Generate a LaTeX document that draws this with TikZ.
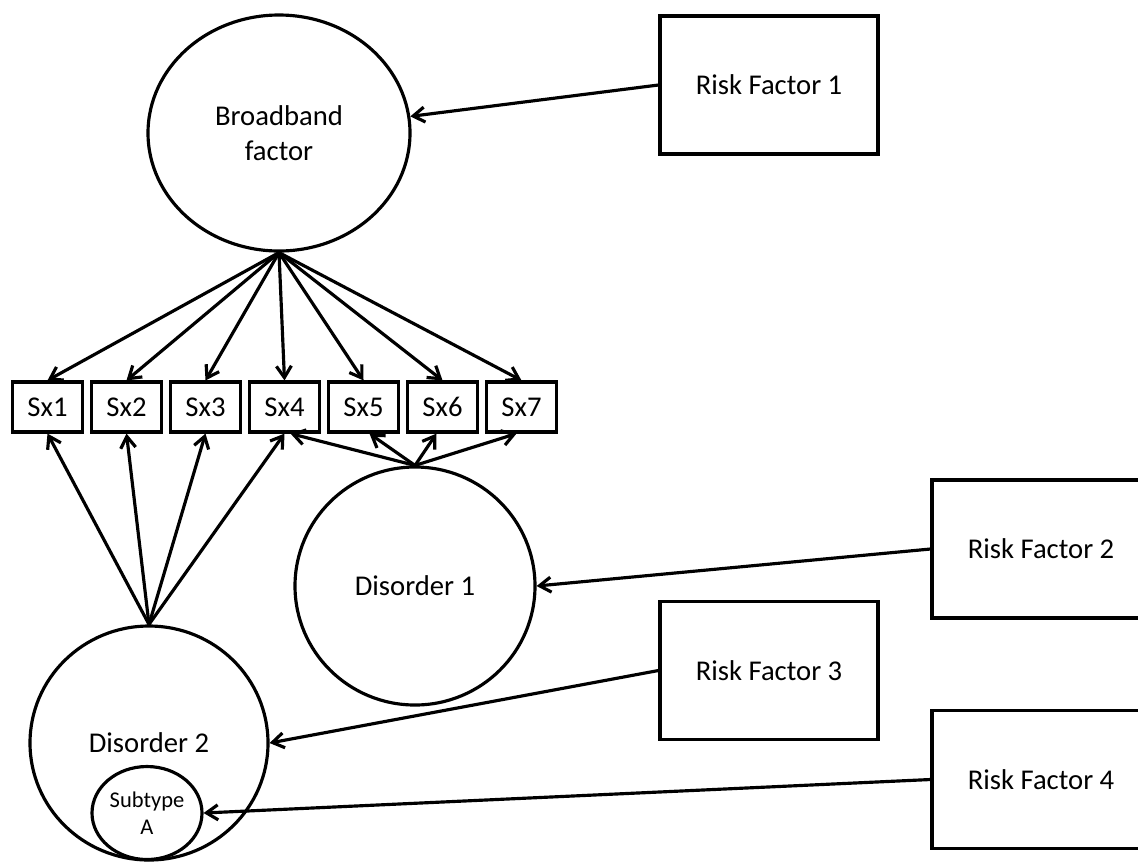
\documentclass[tikz,border=0pt]{standalone}
\usepackage{fontspec}
\setmainfont{Carlito}
\usetikzlibrary{shapes.geometric, arrows.meta}

\begin{document}
\begin{tikzpicture}[font=\fontsize{16.3}{20}\selectfont, line width=1.8pt,
    latent/.style={draw, ellipse, inner sep=0pt, align=center},
    sxbox/.style={draw, rectangle, minimum width=1.4cm, minimum height=1cm, inner sep=0pt},
    riskbox/.style={draw, rectangle, minimum width=4.36cm, minimum height=2.76cm},
    arr/.style={-{Straight Barb[length=2.3mm, width=3mm]}}]
    \useasboundingbox (0,0) rectangle (22.76,-17.22);
    \clip (0,0) rectangle (22.76,-17.22);
    % latent factors
    \node[latent, minimum width=5.24cm, minimum height=4.72cm] (bb) at (5.58,-2.66) {Broadband\\factor};
    \node[latent, minimum width=4.8cm, minimum height=4.76cm] (d1) at (8.30,-11.72) {Disorder 1};
    \node[latent, minimum width=4.76cm, minimum height=4.68cm] (d2) at (2.98,-14.86) {Disorder 2};
    \node[latent, minimum width=2.2cm, minimum height=1.86cm, font=\fontsize{12.8}{15.4}\selectfont] (sa) at (2.94,-16.26) {Subtype\\A};
    % symptoms
    \node[sxbox] (sx1) at (0.95,-8.14) {Sx1};
    \node[sxbox] (sx2) at (2.53,-8.14) {Sx2};
    \node[sxbox] (sx3) at (4.11,-8.14) {Sx3};
    \node[sxbox] (sx4) at (5.69,-8.14) {Sx4};
    \node[sxbox] (sx5) at (7.27,-8.14) {Sx5};
    \node[sxbox] (sx6) at (8.85,-8.14) {Sx6};
    \node[sxbox] (sx7) at (10.43,-8.14) {Sx7};
    % risk factors
    \node[riskbox] (rf1) at (15.38,-1.70) {Risk Factor 1};
    \node[riskbox] (rf2) at (20.82,-10.98) {Risk Factor 2};
    \node[riskbox] (rf3) at (15.38,-13.41) {Risk Factor 3};
    \node[riskbox] (rf4) at (20.82,-15.59) {Risk Factor 4};
    % loadings
    \draw[arr] (bb.south) -- (sx1.north);
    \draw[arr] (bb.south) -- (sx2.north);
    \draw[arr] (bb.south) -- (sx3.north);
    \draw[arr] (bb.south) -- (sx4.north);
    \draw[arr] (bb.south) -- (sx5.north);
    \draw[arr] (bb.south) -- (sx6.north);
    \draw[arr] (bb.south) -- (sx7.north);
    \draw[arr] (d1.north) -- ([xshift=0.12cm]sx4.south);
    \draw[arr] (d1.north) -- ([xshift=0.12cm]sx5.south);
    \draw[arr] (d1.north) -- ([xshift=-0.12cm]sx6.south);
    \draw[arr] (d1.north) -- ([xshift=-0.1cm]sx7.south);
    \draw[arr] (d2.north) -- (sx1.south);
    \draw[arr] (d2.north) -- (sx2.south);
    \draw[arr] (d2.north) -- (sx3.south);
    \draw[arr] (d2.north) -- (sx4.south);
    % risk paths
    \draw[arr] (rf1.west) -- (bb);
    \draw[arr] (rf2.west) -- (d1.east);
    \draw[arr] (rf3.west) -- (d2.east);
    \draw[arr] (rf4.west) -- (sa.east);
\end{tikzpicture}
\end{document}
